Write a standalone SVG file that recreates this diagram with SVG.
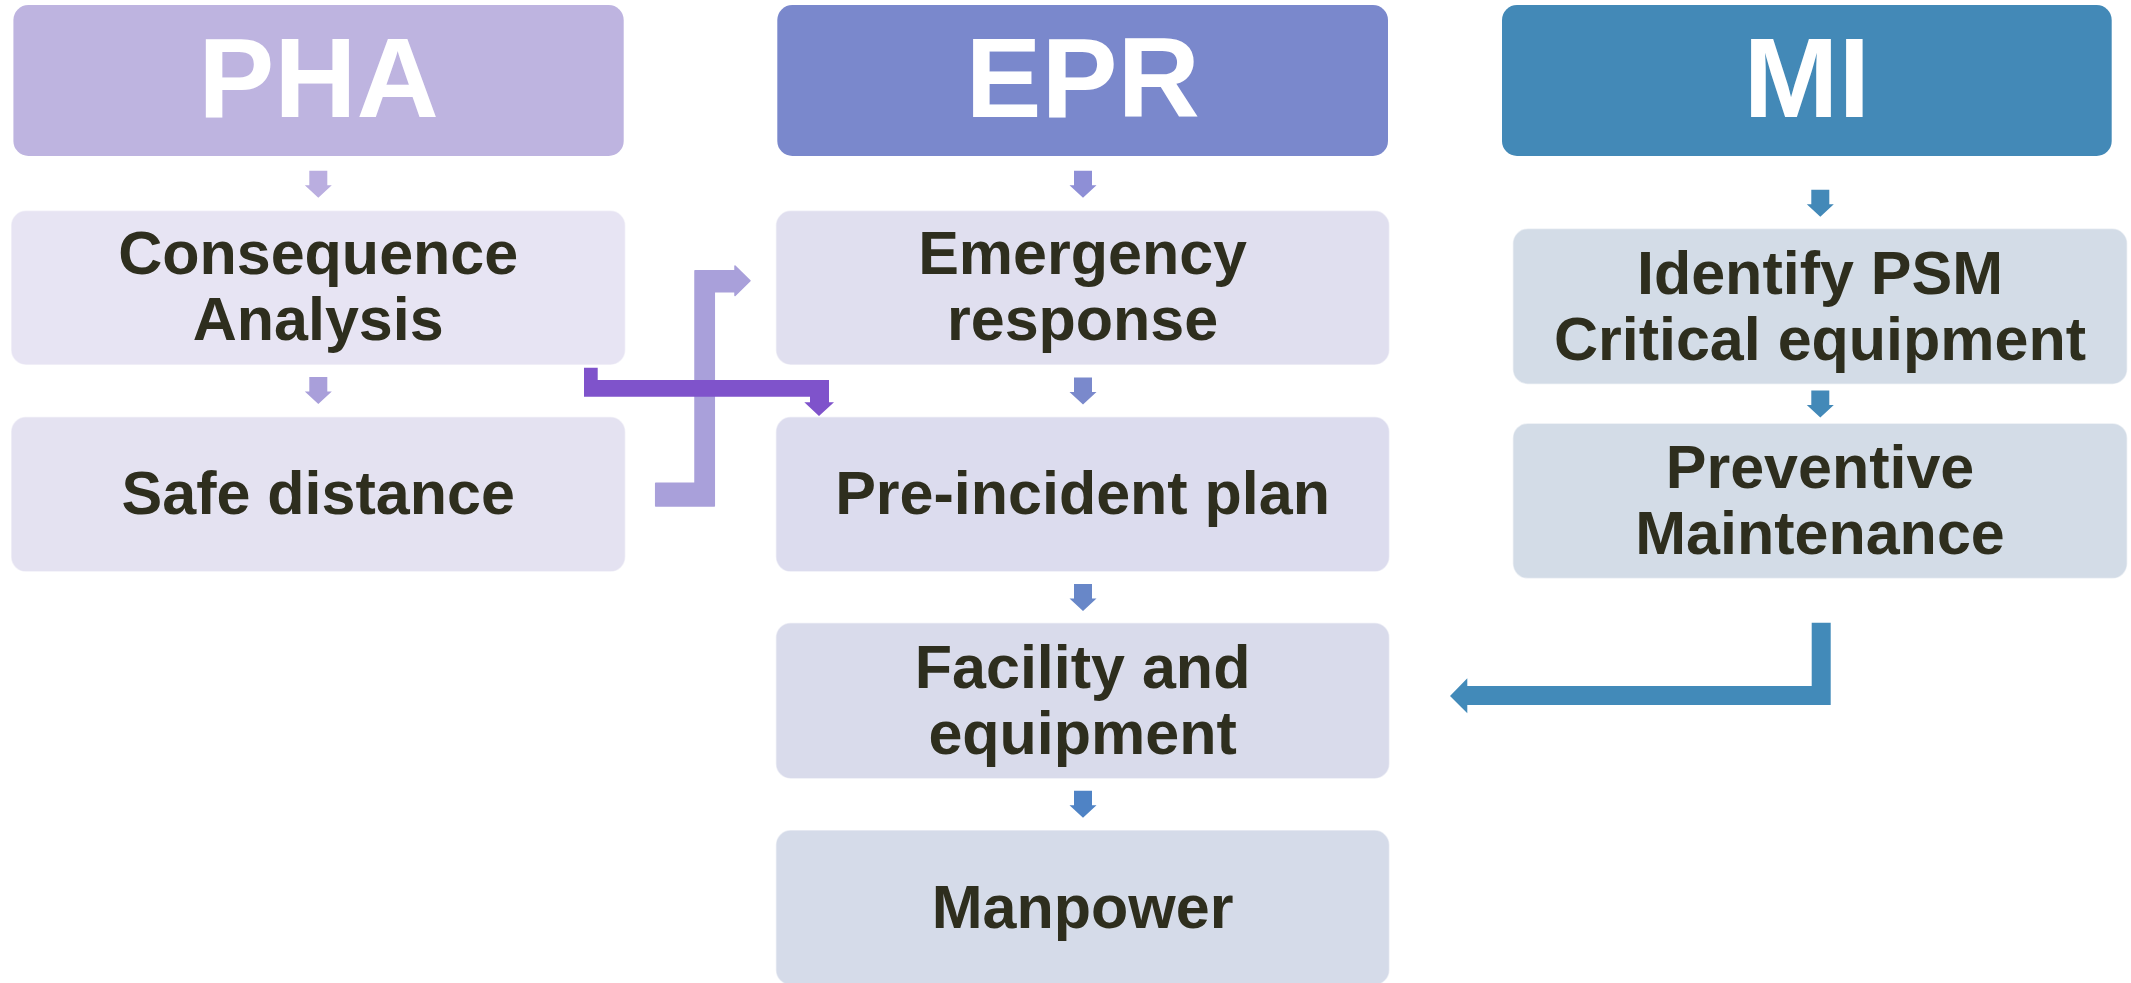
<svg xmlns="http://www.w3.org/2000/svg" width="2131" height="983" viewBox="0 0 2131 983">
<defs>
<style>
.hdr text{font-family:"Liberation Sans",Arial,sans-serif;font-weight:bold;font-size:114px;fill:#FFFFFF;text-anchor:middle}
.box rect{stroke:#FFFFFF;stroke-opacity:0.5;stroke-width:1.5}
.box text{font-family:"Liberation Sans",Arial,sans-serif;font-weight:bold;font-size:61px;fill:#2E2E1E;text-anchor:middle}
</style>
<path id="sa" d="M-9,0 H9 V14.5 H13.5 L0,27 L-13.5,14.5 H-9 Z"/>
</defs>
<rect width="2131" height="983" fill="#FFFFFF"/>

<g id="pha" class="hdr">
<rect x="13.4" y="5" width="610.3" height="151" rx="15" fill="#BEB4E0"/>
<text x="318.5" y="116.7">PHA</text>
</g>
<g id="epr" class="hdr">
<rect x="777.3" y="5" width="610.7" height="151" rx="15" fill="#7A88CC"/>
<text x="1082.7" y="116.7">EPR</text>
</g>
<g id="mi" class="hdr">
<rect x="1502" y="5" width="609.7" height="151" rx="15" fill="#4389B7"/>
<text x="1806.8" y="116.7">MI</text>
</g>

<g id="consequence" class="box">
<rect x="11" y="210.5" width="614.4" height="154.5" rx="15" fill="#E7E4F3"/>
<text x="318.2" y="274">Consequence</text>
<text x="318.2" y="340">Analysis</text>
</g>
<g id="safe-distance" class="box">
<rect x="11" y="416.8" width="614.4" height="155" rx="15" fill="#E4E2F1"/>
<text x="318.2" y="514">Safe distance</text>
</g>
<g id="emergency" class="box">
<rect x="775.8" y="210.5" width="613.7" height="154.5" rx="15" fill="#E0DFEF"/>
<text x="1082.6" y="274">Emergency</text>
<text x="1082.6" y="340">response</text>
</g>
<g id="pre-incident" class="box">
<rect x="775.8" y="416.8" width="613.7" height="155" rx="15" fill="#DCDCEE"/>
<text x="1082.6" y="513.5">Pre-incident plan</text>
</g>
<g id="facility" class="box">
<rect x="775.8" y="622.7" width="613.7" height="156" rx="15" fill="#D9DBEB"/>
<text x="1082.6" y="687.5">Facility and</text>
<text x="1082.6" y="753.5">equipment</text>
</g>
<g id="manpower" class="box">
<rect x="775.8" y="830" width="613.7" height="155" rx="15" fill="#D5DBE9"/>
<text x="1082.6" y="927.7">Manpower</text>
</g>
<g id="identify" class="box">
<rect x="1512.8" y="228.5" width="614.5" height="155.7" rx="15" fill="#D3DCE7"/>
<text x="1820" y="293.5">Identify PSM</text>
<text x="1820" y="359.5">Critical equipment</text>
</g>
<g id="preventive" class="box">
<rect x="1512.8" y="423.2" width="614.5" height="155.4" rx="15" fill="#D3DCE7"/>
<text x="1820" y="487.8">Preventive</text>
<text x="1820" y="553.8">Maintenance</text>
</g>

<g id="connectors">
<use href="#sa" x="318.3" y="170.7" fill="#BAAEE0"/>
<use href="#sa" x="318.3" y="377" fill="#A99FDA"/>
<use href="#sa" x="1083" y="170.7" fill="#8E8FD6"/>
<use href="#sa" x="1083" y="377.5" fill="#7A89CC"/>
<use href="#sa" x="1083" y="584" fill="#6887C8"/>
<use href="#sa" x="1083" y="790.7" fill="#4F83C5"/>
<use href="#sa" x="1820.3" y="189.8" fill="#4389B8"/>
<use href="#sa" x="1820.3" y="390.5" fill="#4389B8"/>
<path d="M655.7,483.3 H695 V270.7 H735 V266 L750,280.7 L735,295.5 V291.7 H714.3 V506 H655.7 Z" fill="#A9A0DA" stroke="#A9A0DA" stroke-width="1.5" stroke-linejoin="round"/>
<path d="M584,367.7 H597.7 V380 H829 V402.3 H834 L819,416 L804.3,402.3 H810 V396.7 H584 Z" fill="#7F53CB"/>
<path d="M1811.7,622.7 H1830.7 V705 H1467.3 V713.3 L1450,696 L1467.3,678.3 V686 H1811.7 Z" fill="#428AB9"/>
</g>
</svg>
